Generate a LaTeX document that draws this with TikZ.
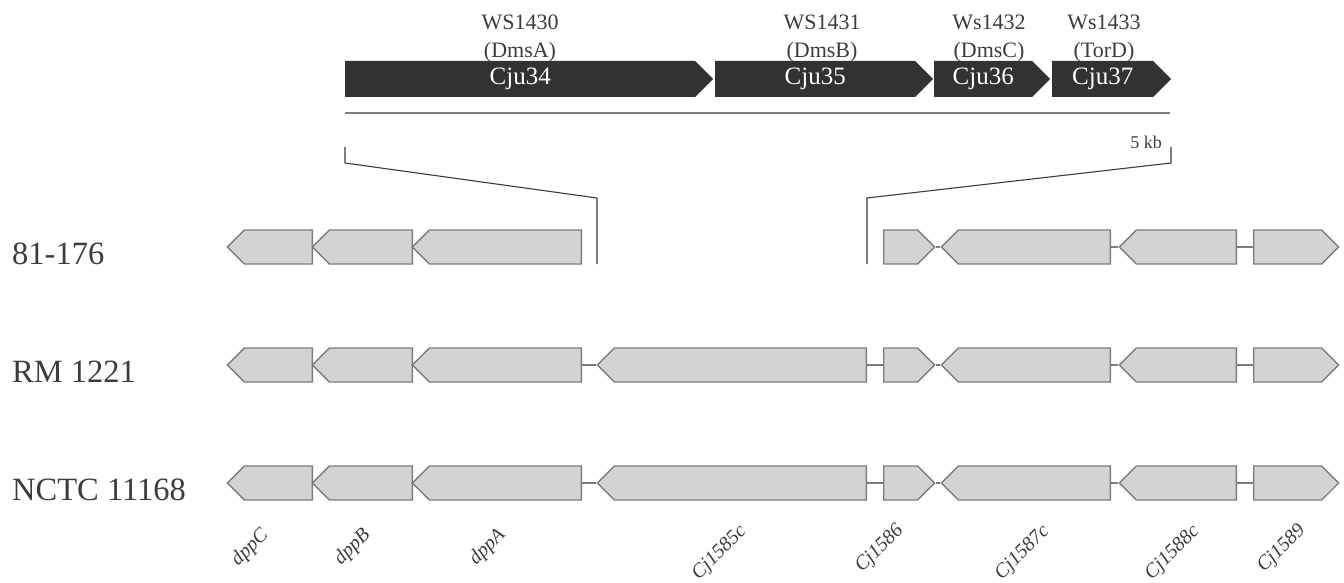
\documentclass[tikz,border=0pt]{standalone}
\usepackage{fontspec}
\setmainfont{Liberation Serif}
\usepackage{tikz}
\usetikzlibrary{shapes.symbols}
\usepackage{xcolor}
\definecolor{ColGene}{RGB}{211,211,211}
\definecolor{ColEdge}{RGB}{125,125,125}
\definecolor{ColDark}{RGB}{50,50,50}
\definecolor{ColText}{RGB}{60,60,60}
\tikzstyle{GeneBase}=[shape=signal,signal pointer angle=90,draw=ColEdge,fill=ColGene,
line width=1.3pt,minimum height=34pt,inner sep=0pt]
\tikzstyle{GeneL}=[GeneBase,signal to=west,anchor=east]
\tikzstyle{GeneR}=[GeneBase,signal to=east,anchor=west]
\tikzstyle{OrfBar}=[shape=signal,signal to=east,signal pointer angle=90,fill=ColDark,
minimum height=36pt,inner sep=0pt,anchor=west,text=white,font=\fontsize{25}{25}\selectfont]
\tikzstyle{OrfName}=[anchor=south,align=center,inner sep=0pt,text=ColText,
font=\fontsize{22}{28}\selectfont]
\tikzstyle{RowLabel}=[anchor=base west,inner sep=0pt,text=ColText,font=\fontsize{32.5}{32.5}\selectfont]
\tikzstyle{GeneLabel}=[anchor=base east,rotate=45,inner sep=0pt,text=ColText,
font=\fontsize{20}{20}\selectfont\itshape]
\tikzstyle{LinkEdge}=[ColEdge,line width=1.3pt]
\tikzstyle{ZoomLine}=[ColText,line width=1.1pt]
\begin{document}
\begin{tikzpicture}[x=1pt,y=-1pt]
        \useasboundingbox(0,0)rectangle(1344,583);
        % Cju34-Cju37 insertion
        \node[OrfBar,minimum width=368pt](Cju34)at(345,79){Cju34};
        \node[OrfBar,minimum width=218pt](Cju35)at(715,79){Cju35};
        \node[OrfBar,minimum width=116pt](Cju36)at(934,79){Cju36};
        \node[OrfBar,minimum width=119pt](Cju37)at(1052,79){Cju37};
        \node[OrfName](ws1430)at(520,62){WS1430\\(DmsA)};
        \node[OrfName](ws1431)at(822,62){WS1431\\(DmsB)};
        \node[OrfName](ws1432)at(989,62){Ws1432\\(DmsC)};
        \node[OrfName](ws1433)at(1104,62){Ws1433\\(TorD)};
        \coordinate(scaleL)at(345,113);
        \coordinate(scaleR)at(1170,113);
        \draw[LinkEdge](scaleL)--(scaleR);
        \node[inner sep=0pt,text=ColText,font=\fontsize{18}{18}\selectfont](kb)at(1146,142){5 kb};
        \coordinate(zoomL1)at(345,147);
        \coordinate(zoomL2)at(345,163);
        \coordinate(zoomL3)at(597,198);
        \coordinate(zoomL4)at(597,264);
        \coordinate(zoomR1)at(1171,147);
        \coordinate(zoomR2)at(1171,163);
        \coordinate(zoomR3)at(867,198);
        \coordinate(zoomR4)at(867,264);
        \draw[ZoomLine](zoomL1)--(zoomL2)--(zoomL3)--(zoomL4);
        \draw[ZoomLine](zoomR1)--(zoomR2)--(zoomR3)--(zoomR4);
        % strain labels
        \node[RowLabel](s81)at(12,264){81-176};
        \node[RowLabel](srm)at(12,382){RM 1221};
        \node[RowLabel](snc)at(12,500){NCTC 11168};
        % 81-176
        \node[GeneL,minimum width=85pt](dppC-1)at(313,247){};
        \node[GeneL,minimum width=100pt](dppB-1)at(413,247){};
        \node[GeneL,minimum width=169pt](dppA-1)at(582,247){};
        \node[GeneR,minimum width=51pt](Cj1586-1)at(883,247){};
        \node[GeneL,minimum width=169pt](Cj1587c-1)at(1111,247){};
        \node[GeneL,minimum width=117pt](Cj1588c-1)at(1237,247){};
        \node[GeneR,minimum width=85pt](Cj1589-1)at(1253,247){};
        \draw[LinkEdge](Cj1586-1.east)--(Cj1587c-1.west);
        \draw[LinkEdge](Cj1587c-1.east)--(Cj1588c-1.west);
        \draw[LinkEdge](Cj1588c-1.east)--(Cj1589-1.west);
        % RM 1221
        \node[GeneL,minimum width=85pt](dppC-2)at(313,365){};
        \node[GeneL,minimum width=100pt](dppB-2)at(413,365){};
        \node[GeneL,minimum width=169pt](dppA-2)at(582,365){};
        \node[GeneL,minimum width=269pt](Cj1585c-2)at(867,365){};
        \node[GeneR,minimum width=51pt](Cj1586-2)at(883,365){};
        \node[GeneL,minimum width=169pt](Cj1587c-2)at(1111,365){};
        \node[GeneL,minimum width=117pt](Cj1588c-2)at(1237,365){};
        \node[GeneR,minimum width=85pt](Cj1589-2)at(1253,365){};
        \draw[LinkEdge](dppA-2.east)--(Cj1585c-2.west);
        \draw[LinkEdge](Cj1585c-2.east)--(Cj1586-2.west);
        \draw[LinkEdge](Cj1586-2.east)--(Cj1587c-2.west);
        \draw[LinkEdge](Cj1587c-2.east)--(Cj1588c-2.west);
        \draw[LinkEdge](Cj1588c-2.east)--(Cj1589-2.west);
        % NCTC 11168
        \node[GeneL,minimum width=85pt](dppC-3)at(313,483){};
        \node[GeneL,minimum width=100pt](dppB-3)at(413,483){};
        \node[GeneL,minimum width=169pt](dppA-3)at(582,483){};
        \node[GeneL,minimum width=269pt](Cj1585c-3)at(867,483){};
        \node[GeneR,minimum width=51pt](Cj1586-3)at(883,483){};
        \node[GeneL,minimum width=169pt](Cj1587c-3)at(1111,483){};
        \node[GeneL,minimum width=117pt](Cj1588c-3)at(1237,483){};
        \node[GeneR,minimum width=85pt](Cj1589-3)at(1253,483){};
        \draw[LinkEdge](dppA-3.east)--(Cj1585c-3.west);
        \draw[LinkEdge](Cj1585c-3.east)--(Cj1586-3.west);
        \draw[LinkEdge](Cj1586-3.east)--(Cj1587c-3.west);
        \draw[LinkEdge](Cj1587c-3.east)--(Cj1588c-3.west);
        \draw[LinkEdge](Cj1588c-3.east)--(Cj1589-3.west);
        % gene names
        \node[GeneLabel](ldppC)at(269,536){dppC};
        \node[GeneLabel](ldppB)at(371,536){dppB};
        \node[GeneLabel](ldppA)at(506,536){dppA};
        \node[GeneLabel](lCj1585c)at(747,532){Cj1585c};
        \node[GeneLabel](lCj1586)at(904,531){Cj1586};
        \node[GeneLabel](lCj1587c)at(1050,532){Cj1587c};
        \node[GeneLabel](lCj1588c)at(1200,532){Cj1588c};
        \node[GeneLabel](lCj1589)at(1306,531){Cj1589};
    \end{tikzpicture}
\end{document}
